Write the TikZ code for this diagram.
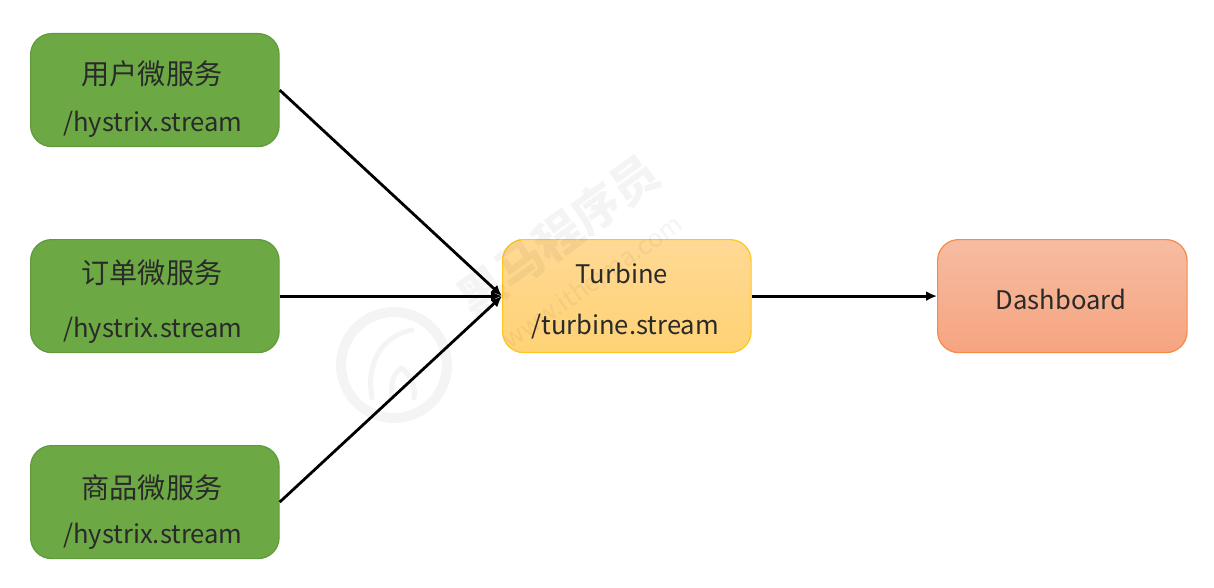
\documentclass[tikz,border=0pt]{standalone}
\usepackage{fontspec}
\setmainfont{Noto Sans CJK SC}
\usetikzlibrary{arrows.meta}
\tikzset{
  x=1pt,y=-1pt,
  boxbase/.style={draw,rounded corners=21pt,line width=1.2pt,minimum width=248.5pt,minimum height=113pt,inner sep=0pt,anchor=north west},
  greenbox/.style={boxbase,draw=gbd,fill=gbf},
  yellowbox/.style={boxbase,draw=ybd,top color=ybt,bottom color=ybb},
  redbox/.style={boxbase,draw=rbd,top color=rbt,bottom color=rbb},
  cjklab/.style={font=\fontsize{28.2}{30}\selectfont,text=txt,inner sep=0pt,anchor=center},
  lab/.style={font=\fontsize{25.6}{30}\selectfont,text=txt,inner sep=0pt,anchor=center},
  link/.style={line width=2.8pt,black,-{Latex[length=11pt,width=10pt]}},
  mark1/.style={text=black,text opacity=.045,font=\fontsize{47}{50}\selectfont\bfseries,rotate=36,inner sep=0pt},
  mark2/.style={text=black,text opacity=.045,font=\fontsize{25}{28}\selectfont,rotate=35,inner sep=0pt},
  markline/.style={black,draw opacity=.045,line cap=round,line join=round}
}
\definecolor{gbf}{HTML}{6CA944}
\definecolor{gbd}{HTML}{5F9A3C}
\definecolor{ybt}{HTML}{FFD995}
\definecolor{ybb}{HTML}{FFD274}
\definecolor{ybd}{HTML}{FFC61E}
\definecolor{rbt}{HTML}{F6BCA2}
\definecolor{rbb}{HTML}{F6A47F}
\definecolor{rbd}{HTML}{F58B46}
\definecolor{txt}{HTML}{2A2A2A}
\begin{document}
\begin{tikzpicture}
\useasboundingbox (0,0) rectangle (1214,588);
% boxes
\node[greenbox] (u) at (30,33) {};
\node[greenbox] (o) at (30,239) {};
\node[greenbox] (p) at (30,445) {};
\node[yellowbox] (t) at (502,239) {};
\node[redbox,minimum width=249.5pt] (d) at (937,239) {};
% labels
\node[cjklab] (u1) at (152,74) {用户微服务};
\node[lab] (u2) at (153,124) {/hystrix.stream};
\node[cjklab] (o1) at (152,273) {订单微服务};
\node[lab] (o2) at (153,330) {/hystrix.stream};
\node[cjklab] (p1) at (152,488) {商品微服务};
\node[lab] (p2) at (153,536) {/hystrix.stream};
\node[lab] (t1) at (622,273) {Turbine};
\node[lab] (t2) at (625,327) {/turbine.stream};
\node[lab] (d1) at (1061,299) {Dashboard};
% connectors
\draw[link] (u.east) -- (t.west);
\draw[link] (o.east) -- (t.west);
\draw[link] (p.east) -- (t.west);
\draw[link] (t.east) -- (d.west);
% watermark
\node[mark1] (wmcn) at (558,236) {黑马程序员};
\node[mark2] (wmurl) at (592,281) {www.itheima.com};
\draw[markline,line width=10pt] (394,365) circle (53);
\draw[markline,line width=5pt] (372,398) .. controls (365,360) and (385,335) .. (412,330);
\draw[markline,line width=5pt] (392,398) .. controls (390,380) and (395,372) .. (402,368) .. controls (412,378) and (416,388) .. (414,398);
\end{tikzpicture}
\end{document}
